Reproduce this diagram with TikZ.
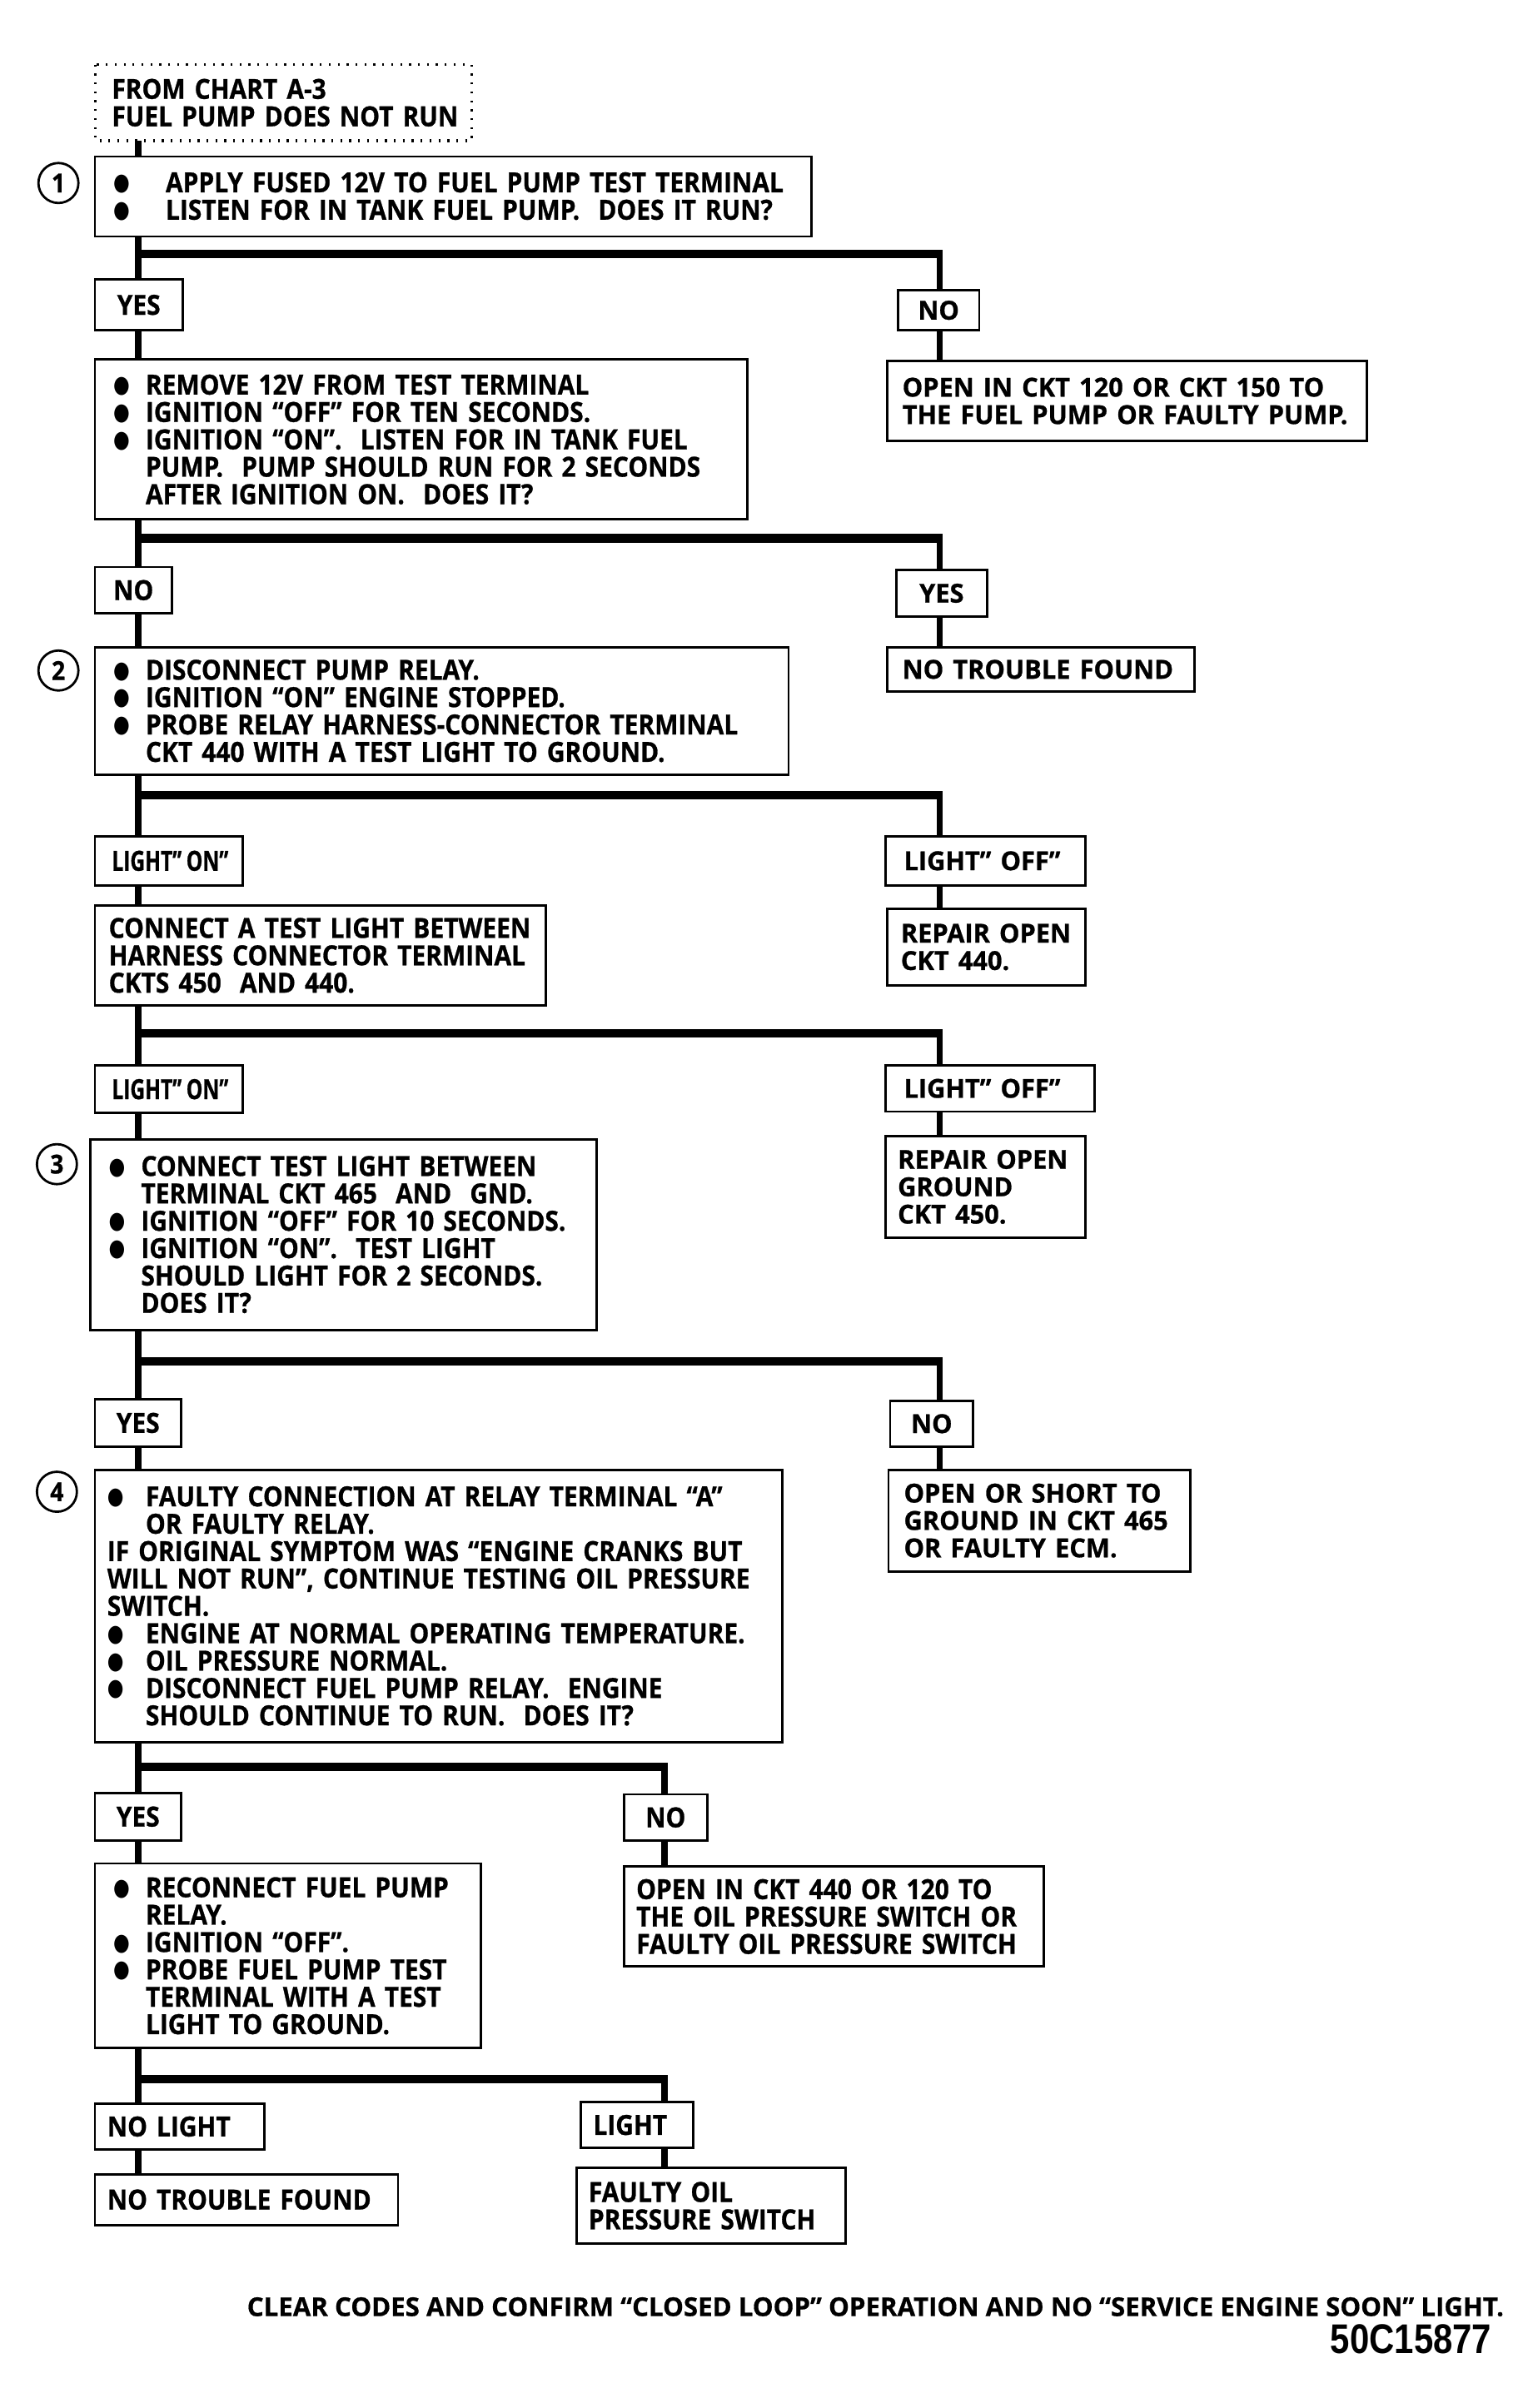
\documentclass[tikz,border=0pt]{standalone}
\usepackage{fontspec}
\usepackage{graphicx}
\newfontfamily\lf[FakeStretch=0.90,FakeBold=0.8]{Open Sans}
\newfontfamily\rf[FakeStretch=0.98,FakeBold=0.8]{Open Sans}
\newfontfamily\cf[FakeStretch=0.74,FakeBold=0.8]{Open Sans}
\newfontfamily\ff[FakeStretch=1.0,FakeBold=0.6]{Open Sans}
\newfontfamily\nf[FakeStretch=0.84]{Liberation Sans}
\newfontfamily\dv{DejaVu Sans}
\newlength\bulind
\setlength\bulind{21pt}
\newcommand\bigbul{\raisebox{1.2pt}{\scalebox{0.68}[0.86]{\dv ●}}}
\newcommand\bl[1]{\mbox{\makebox[\bulind][l]{\bigbul}#1}}
\newcommand\cl[1]{\mbox{\hspace*{\bulind}#1}}
\newcommand\pl[1]{\mbox{#1}}
\newcommand\rsz{\fontsize{17}{17.8}\selectfont}
\newcommand\mkbox[8][left]{%
  \pgfmathsetlengthmacro\bw{(#5-#3)*1pt}%
  \pgfmathsetlengthmacro\bh{(#6-#4)*1pt}%
  \pgfmathsetlengthmacro\tw{(#5-#3-2*#7)*1pt}%
  \node[box, minimum width=\bw, minimum height=\bh, text width=\tw, inner xsep=#7pt, align=#1] (#2) at (#3,#4) {#8};}
\tikzset{
  box/.style={draw, line width=1.5pt, anchor=north west, inner ysep=0pt,
    font=\lf\bfseries\fontsize{18}{17.8}\selectfont},
  circ/.style={circle, draw, line width=1.5pt, minimum size=26pt, inner sep=0pt,
    font=\lf\bfseries\fontsize{17}{17}\selectfont},
  vl/.style={line width=4.2pt},
  hl/.style={line width=5.5pt},
}
\begin{document}
\begin{tikzpicture}[x=1pt,y=-1pt]
\fill[white] (0,0) rectangle (1000,1565.8);
\useasboundingbox (0,0) rectangle (1000,1565.8);

% start box (dotted)
\node[box, draw=none, minimum width=243pt, minimum height=48pt, text width=223pt, inner xsep=10pt, align=left] (start) at (62,42)
  {\pl{FROM CHART A-3}\\\pl{FUEL PUMP DOES NOT RUN}};
\draw[line width=1.7pt, dash pattern=on 1.2pt off 4.6pt] (start.north west) rectangle (start.south east);

% circled numbers
\node[circ] (c1) at (38,119) {1};
\node[circ] (c2) at (38,436) {2};
\node[circ] (c3) at (37,757) {3};
\node[circ] (c4) at (37,970) {4};

% step boxes (left column)
\setlength\bulind{34pt}
\mkbox{s1}{61}{101}{527}{153}{12}{\bl{APPLY FUSED 12V TO FUEL PUMP TEST TERMINAL}\\
  \bl{LISTEN FOR IN TANK FUEL PUMP.\ \ DOES IT RUN?}}
\setlength\bulind{21pt}
\mkbox{s2}{61}{233}{485}{337}{12}{\bl{REMOVE 12V FROM TEST TERMINAL}\\
  \bl{IGNITION “OFF” FOR TEN SECONDS.}\\
  \bl{IGNITION “ON”.\ \ LISTEN FOR IN TANK FUEL}\\
  \cl{PUMP.\ \ PUMP SHOULD RUN FOR 2 SECONDS}\\
  \cl{AFTER IGNITION ON.\ \ DOES IT?}}
\mkbox{s3}{61}{420}{512}{503}{12}{\bl{DISCONNECT PUMP RELAY.}\\
  \bl{IGNITION “ON” ENGINE STOPPED.}\\
  \bl{PROBE RELAY HARNESS-CONNECTOR TERMINAL}\\
  \cl{CKT 440 WITH A TEST LIGHT TO GROUND.}}
\mkbox{s3a}{61}{588}{354}{653}{9}{\pl{CONNECT A TEST LIGHT BETWEEN}\\
  \pl{HARNESS CONNECTOR TERMINAL}\\
  \pl{CKTS 450\ \ AND 440.}}
\mkbox{s4}{58}{740}{387}{864}{12}{\bl{CONNECT TEST LIGHT BETWEEN}\\
  \cl{TERMINAL CKT 465\ \ AND\ \ GND.}\\
  \bl{IGNITION “OFF” FOR 10 SECONDS.}\\
  \bl{IGNITION “ON”.\ \ TEST LIGHT}\\
  \cl{SHOULD LIGHT FOR 2 SECONDS.}\\
  \cl{DOES IT?}}
\mkbox{s5}{61}{955}{508}{1132}{8}{\bl{\hspace{4pt}FAULTY CONNECTION AT RELAY TERMINAL “A”}\\
  \cl{\hspace{4pt}OR FAULTY RELAY.}\\
  \pl{IF ORIGINAL SYMPTOM WAS “ENGINE CRANKS BUT}\\
  \pl{WILL NOT RUN”, CONTINUE TESTING OIL PRESSURE}\\
  \pl{SWITCH.}\\
  \bl{\hspace{4pt}ENGINE AT NORMAL OPERATING TEMPERATURE.}\\
  \bl{\hspace{4pt}OIL PRESSURE NORMAL.}\\
  \bl{\hspace{4pt}DISCONNECT FUEL PUMP RELAY.\ \ ENGINE}\\
  \cl{\hspace{4pt}SHOULD CONTINUE TO RUN.\ \ DOES IT?}}
\mkbox{s6}{61}{1211}{312}{1331}{12}{\bl{RECONNECT FUEL PUMP}\\
  \cl{RELAY.}\\
  \bl{IGNITION “OFF”.}\\
  \bl{PROBE FUEL PUMP TEST}\\
  \cl{TERMINAL WITH A TEST}\\
  \cl{LIGHT TO GROUND.}}

% result boxes
\mkbox{r1}{576}{234}{888}{286}{10}{\rf\rsz\pl{OPEN IN CKT 120 OR CKT 150 TO}\\\pl{THE FUEL PUMP OR FAULTY PUMP.}}
\mkbox{r2}{576}{420}{776}{449}{10}{\rf\rsz\pl{NO TROUBLE FOUND}}
\mkbox{r3}{576}{590}{705}{640}{9}{\rf\rsz\pl{REPAIR OPEN}\\\pl{CKT 440.}}
\mkbox{r4}{575}{738}{705}{804}{8}{\rf\rsz\pl{REPAIR OPEN}\\\pl{GROUND}\\\pl{CKT 450.}}
\mkbox{r5}{577}{955}{773}{1021}{10}{\rf\rsz\pl{OPEN OR SHORT TO}\\\pl{GROUND IN CKT 465}\\\pl{OR FAULTY ECM.}}
\mkbox{r6}{405}{1213}{678}{1278}{8}{\pl{OPEN IN CKT 440 OR 120 TO}\\\pl{THE OIL PRESSURE SWITCH OR}\\\pl{FAULTY OIL PRESSURE SWITCH}}
\mkbox{e1}{61}{1413}{258}{1446}{8}{\pl{NO TROUBLE FOUND}}
\mkbox{e2}{374}{1409}{549}{1458}{8}{\pl{FAULTY OIL}\\\pl{PRESSURE SWITCH}}

% answer labels
\mkbox[center]{yes1}{61}{181}{118}{214}{2}{YES}
\mkbox[center]{no1}{583}{188}{636}{214}{2}{\rf\rsz NO}
\mkbox[center]{no2}{61}{368}{111}{398}{2}{NO}
\mkbox[center]{yes2}{582}{370}{641}{400}{2}{\rf\rsz YES}
\mkbox{lon1}{61}{543}{157}{575}{11}{\cf\pl{LIGHT”\,ON”}}
\mkbox{loff1}{575}{543}{705}{575}{12}{\rf\rsz\pl{LIGHT” OFF”}}
\mkbox{lon2}{61}{692}{157}{723}{11}{\cf\pl{LIGHT”\,ON”}}
\mkbox{loff2}{575}{692}{711}{722}{12}{\rf\rsz\pl{LIGHT” OFF”}}
\mkbox[center]{yes3}{61}{909}{117}{940}{2}{YES}
\mkbox[center]{no3}{578}{910}{632}{940}{2}{\rf\rsz NO}
\mkbox[center]{yes4}{61}{1165}{117}{1196}{2}{YES}
\mkbox[center]{no4}{405}{1166}{459}{1196}{2}{NO}
\mkbox{nol}{61}{1367}{171}{1397}{8}{\pl{NO LIGHT}}
\mkbox{lgt}{377}{1366}{450}{1396}{8}{\pl{LIGHT}}

% trunk and branch coordinates
\coordinate (tx) at (90,0);
\coordinate (rx) at (611,0);
\coordinate (mx) at (432,0);
\coordinate (br1) at (90,165);
\coordinate (br2) at (90,350);
\coordinate (br3) at (90,517);
\coordinate (br4) at (90,672);
\coordinate (br5) at (90,885);
\coordinate (br6) at (90,1149);
\coordinate (br7) at (90,1352);

% left trunk
\draw[vl] (start.south -| tx) -- (s1.north -| tx);
\draw[vl] (s1.south -| tx) -- (yes1.north -| tx);
\draw[vl] (yes1.south -| tx) -- (s2.north -| tx);
\draw[vl] (s2.south -| tx) -- (no2.north -| tx);
\draw[vl] (no2.south -| tx) -- (s3.north -| tx);
\draw[vl] (s3.south -| tx) -- (lon1.north -| tx);
\draw[vl] (lon1.south -| tx) -- (s3a.north -| tx);
\draw[vl] (s3a.south -| tx) -- (lon2.north -| tx);
\draw[vl] (lon2.south -| tx) -- (s4.north -| tx);
\draw[vl] (s4.south -| tx) -- (yes3.north -| tx);
\draw[vl] (yes3.south -| tx) -- (s5.north -| tx);
\draw[vl] (s5.south -| tx) -- (yes4.north -| tx);
\draw[vl] (yes4.south -| tx) -- (s6.north -| tx);
\draw[vl] (s6.south -| tx) -- (nol.north -| tx);
\draw[vl] (nol.south -| tx) -- (e1.north -| tx);

% branches to the right
\draw[hl] ([xshift=-2.1pt]br1) -- ([xshift=2.1pt]br1 -| rx);
\draw[vl] (br1 -| rx) -- (no1.north -| rx);
\draw[vl] (no1.south -| rx) -- (r1.north -| rx);
\draw[hl] ([xshift=-2.1pt]br2) -- ([xshift=2.1pt]br2 -| rx);
\draw[vl] (br2 -| rx) -- (yes2.north -| rx);
\draw[vl] (yes2.south -| rx) -- (r2.north -| rx);
\draw[hl] ([xshift=-2.1pt]br3) -- ([xshift=2.1pt]br3 -| rx);
\draw[vl] (br3 -| rx) -- (loff1.north -| rx);
\draw[vl] (loff1.south -| rx) -- (r3.north -| rx);
\draw[hl] ([xshift=-2.1pt]br4) -- ([xshift=2.1pt]br4 -| rx);
\draw[vl] (br4 -| rx) -- (loff2.north -| rx);
\draw[vl] (loff2.south -| rx) -- (r4.north -| rx);
\draw[hl] ([xshift=-2.1pt]br5) -- ([xshift=2.1pt]br5 -| rx);
\draw[vl] (br5 -| rx) -- (no3.north -| rx);
\draw[vl] (no3.south -| rx) -- (r5.north -| rx);
\draw[hl] ([xshift=-2.1pt]br6) -- ([xshift=2.1pt]br6 -| mx);
\draw[vl] (br6 -| mx) -- (no4.north -| mx);
\draw[vl] (no4.south -| mx) -- (r6.north -| mx);
\draw[hl] ([xshift=-2.1pt]br7) -- ([xshift=2.1pt]br7 -| mx);
\draw[vl] (br7 -| mx) -- (lgt.north -| mx);
\draw[vl] (lgt.south -| mx) -- (e2.north -| mx);

% footer
\node[anchor=east, inner sep=0pt, font=\ff\bfseries\fontsize{16.9}{17}\selectfont] (foot) at (978,1500)
  {CLEAR CODES AND CONFIRM “CLOSED LOOP” OPERATION AND NO “SERVICE ENGINE SOON” LIGHT.};
\node[anchor=east, inner sep=0pt, font=\nf\bfseries\fontsize{27}{27}\selectfont] (code) at (970,1521) {50C15877};
\end{tikzpicture}
\end{document}
